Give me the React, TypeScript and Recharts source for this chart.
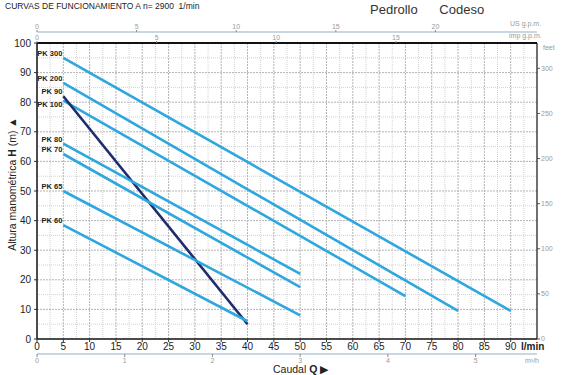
import { LineChart, Line, XAxis, YAxis, ReferenceLine } from 'recharts'

// caudal in l/min, altura in m
const FLOW_TICKS = [0, 5, 10, 15, 20, 25, 30, 35, 40, 45, 50, 55, 60, 65, 70, 75, 80, 85, 90]
const HEAD_TICKS = [0, 10, 20, 30, 40, 50, 60, 70, 80, 90, 100]
const FEET_TICKS = [0, 50, 100, 150, 200, 250, 300]
const USGPM_TICKS = [0, 5, 10, 15, 20]
const IMPGPM_TICKS = [0, 5, 10, 15]
const M3H_TICKS = [0, 1, 2, 3, 4, 5]
const GRID_Q_MINOR = [2.5, 7.5, 12.5, 17.5, 22.5, 27.5, 32.5, 37.5, 42.5, 47.5, 52.5, 57.5, 62.5, 67.5, 72.5, 77.5, 82.5, 87.5, 92.5]
const GRID_Q_MAJOR = [5, 10, 15, 20, 25, 30, 35, 40, 45, 50, 55, 60, 65, 70, 75, 80, 85, 90]
const GRID_H_MINOR = [5, 15, 25, 35, 45, 55, 65, 75, 85, 95]
const GRID_H_MAJOR = [10, 20, 30, 40, 50, 60, 70, 80, 90]

const PUMPS = ['PK 300', 'PK 200', 'PK 100', 'PK 90', 'PK 80', 'PK 70', 'PK 65', 'PK 60']
const Q_START = [5, 5, 5, 5, 5, 5, 5, 5]
const Q_END = [90, 80, 70, 40, 50, 50, 50, 40]
const H_START = [95, 86.5, 80.5, 82, 66, 62.5, 50, 38.5]
const H_END = [9.5, 9.5, 14.5, 5, 22, 17.5, 8, 6]

const LABEL_DY: Record<string, number> = { 'PK 100': 6, 'PK 90': -2 }

const Q_MAX = 95
const H_MAX = 100
const M_TO_FT = 3.2808
const L_PER_USGAL = 3.785
const L_PER_IMPGAL = 4.546

const LIGHT = '#2ea7df'
const DARK = '#1e2c6e'
const FONT = '"Liberation Sans", Arial, sans-serif'

const faint = { fontSize: 7, fill: '#9a9a9a', fontFamily: FONT }

export default function App() {
  return (
    <div style={{ position: 'relative', width: 561, height: 375, background: '#fff', fontFamily: FONT, overflow: 'hidden' }}>
      <style>{'body{margin:0}'}</style>
      <LineChart width={561} height={375} margin={{ top: 20, right: 0, bottom: 7, left: 0 }}>
        <XAxis xAxisId="flow" dataKey="q" type="number" domain={[0, Q_MAX]} allowDataOverflow ticks={FLOW_TICKS} orientation="bottom" height={15}
          tickSize={3} tickMargin={1} axisLine={{ stroke: '#111', strokeWidth: 1.5 }} tickLine={{ stroke: '#333' }}
          tick={{ fontSize: 10, fill: '#222', fontFamily: FONT }} interval={0} />
        <XAxis xAxisId="m3h" dataKey="q" type="number" domain={[0, (Q_MAX * 60) / 1000]} allowDataOverflow ticks={M3H_TICKS} orientation="bottom" height={14}
          tickSize={3} tickMargin={1} axisLine={{ stroke: '#8fb0c8', strokeWidth: 1 }} tickLine={{ stroke: '#888' }} tick={faint} interval={0} />
        <XAxis xAxisId="imp" dataKey="q" type="number" domain={[0, Q_MAX / L_PER_IMPGAL]} allowDataOverflow ticks={IMPGPM_TICKS} orientation="top" height={11}
          tickSize={2} tickMargin={1} axisLine={{ stroke: '#111', strokeWidth: 2 }} tickLine={{ stroke: '#888' }} tick={faint} interval={0} />
        <XAxis xAxisId="us" dataKey="q" type="number" domain={[0, Q_MAX / L_PER_USGAL]} allowDataOverflow ticks={USGPM_TICKS} orientation="top" height={12}
          tickSize={2} tickMargin={1} axisLine={{ stroke: '#8fb0c8', strokeWidth: 1 }} tickLine={{ stroke: '#888' }} tick={faint} interval={0} />
        <YAxis yAxisId="h" type="number" domain={[0, H_MAX]} allowDataOverflow ticks={HEAD_TICKS} width={37} tickSize={3} tickMargin={3}
          axisLine={{ stroke: '#111', strokeWidth: 1.5 }} tickLine={{ stroke: '#333' }} tick={{ fontSize: 10, fill: '#222', fontFamily: FONT }} interval={0} />
        <YAxis yAxisId="ft" type="number" orientation="right" domain={[0, H_MAX * M_TO_FT]} allowDataOverflow ticks={FEET_TICKS} width={24} tickSize={3} tickMargin={1}
          axisLine={{ stroke: '#111', strokeWidth: 1.2 }} tickLine={{ stroke: '#555' }} tick={faint} interval={0} />
        {GRID_Q_MINOR.map((v) => (
          <ReferenceLine key={`qm${v}`} xAxisId="flow" yAxisId="h" x={v} stroke="#d2d2d2" strokeDasharray="1 1" />
        ))}
        {GRID_H_MINOR.map((v) => (
          <ReferenceLine key={`hm${v}`} xAxisId="flow" yAxisId="h" y={v} stroke="#d2d2d2" strokeDasharray="1 1" />
        ))}
        {GRID_Q_MAJOR.map((v) => (
          <ReferenceLine key={`qM${v}`} xAxisId="flow" yAxisId="h" x={v} stroke="#b4b4b4" strokeDasharray="2 1" />
        ))}
        {GRID_H_MAJOR.map((v) => (
          <ReferenceLine key={`hM${v}`} xAxisId="flow" yAxisId="h" y={v} stroke="#b4b4b4" strokeDasharray="2 1" />
        ))}
        {PUMPS.map((name, i) => (
          <Line
            key={name}
            xAxisId="flow"
            yAxisId="h"
            data={[{ q: Q_START[i], h: H_START[i] }, { q: Q_END[i], h: H_END[i] }]}
            dataKey="h"
            name={name}
            stroke={name === 'PK 90' ? DARK : LIGHT}
            strokeWidth={2.6}
            dot={false}
            isAnimationActive={false}
            label={(p: any) =>
              p.index === 0 ? (
                <text key={name} x={p.x - 1} y={p.y + (LABEL_DY[name] ?? -2)} textAnchor="end" fontSize={7.5} fontWeight={600} fill="#222" fontFamily={FONT}>
                  {name}
                </text>
              ) : null
            }
          />
        ))}
      </LineChart>
      <div style={{ position: 'absolute', left: 5, top: 1, fontSize: 8.5, color: '#222', whiteSpace: 'pre' }}>CURVAS DE FUNCIONAMIENTO A n= 2900  1/min</div>
      <div style={{ position: 'absolute', left: 370, top: 2, fontSize: 13, color: '#333', whiteSpace: 'pre' }}>Pedrollo      Codeso</div>
      <div style={{ position: 'absolute', left: 510, top: 20, fontSize: 7, color: '#9a9a9a' }}>US g.p.m.</div>
      <div style={{ position: 'absolute', left: 509, top: 32, fontSize: 7, color: '#9a9a9a' }}>imp g.p.m.</div>
      <div style={{ position: 'absolute', left: 543, top: 44, fontSize: 7, color: '#9a9a9a' }}>feet</div>
      <div style={{ position: 'absolute', left: 521, top: 341, fontSize: 10, fontWeight: 700, color: '#222' }}>l/min</div>
      <div style={{ position: 'absolute', left: 525, top: 357, fontSize: 7, color: '#9a9a9a' }}>m³/h</div>
      <div style={{ position: 'absolute', left: 273, top: 364, fontSize: 10.5, lineHeight: '10px', color: '#222', whiteSpace: 'pre' }}>
        Caudal <b>Q</b> ▶
      </div>
      <div style={{ position: 'absolute', left: 12, top: 184, transform: 'translate(-50%, -50%) rotate(-90deg)', fontSize: 10.5, color: '#222', whiteSpace: 'pre' }}>
        Altura manométrica <b>H</b> (m) ▲
      </div>
    </div>
  )
}
